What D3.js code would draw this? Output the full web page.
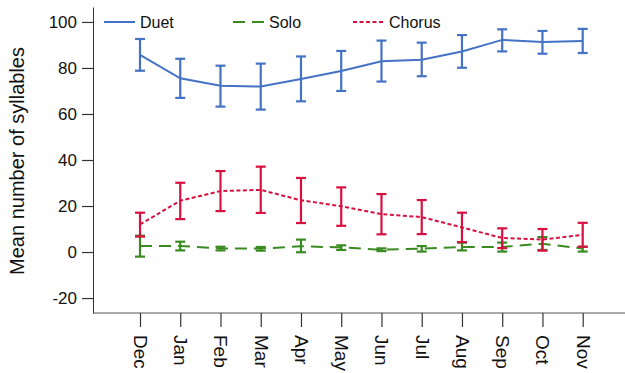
<!DOCTYPE html>
<html>
<head>
<meta charset="utf-8">
<script src="https://cdn.jsdelivr.net/npm/d3@7"></script>
<style>
  body { margin: 0; background: #fff; }
  svg text { font-family: "Liberation Sans", Arial, sans-serif; fill: #111; }
</style>
</head>
<body>
<div id="chart"></div>
<script>
// Months (x categories)
const months = ['Dec', 'Jan', 'Feb', 'Mar', 'Apr', 'May', 'Jun', 'Jul', 'Aug', 'Sep', 'Oct', 'Nov'];

// Mean values and error bar ends
const duetMean = [85.7, 75.5, 72.3, 71.9, 75.2, 78.7, 82.9, 83.6, 87.2, 92.2, 91.3, 91.7];
const duetHigh = [92.6, 84.0, 81.0, 81.9, 85.0, 87.4, 91.9, 91.0, 94.3, 96.8, 96.1, 97.0];
const duetLow  = [78.8, 67.0, 63.2, 61.9, 65.5, 70.0, 74.1, 76.4, 80.1, 87.2, 86.2, 86.5];

const soloMean = [2.6, 2.6, 1.6, 1.5, 2.5, 2.0, 1.0, 1.5, 2.2, 2.2, 3.6, 1.5];
const soloHigh = [7.1, 4.5, 2.3, 2.2, 5.4, 2.9, 1.6, 2.6, 4.1, 4.1, 6.5, 2.3];
const soloLow  = [-2.0, 0.7, 0.7, 0.6, -0.1, 0.9, 0.4, 0.2, 0.7, 0.2, 0.9, 0.2];

const chorusMean = [12.0, 22.3, 26.5, 27.0, 22.5, 19.9, 16.5, 15.2, 10.7, 6.1, 5.4, 7.5];
const chorusHigh = [17.1, 30.1, 35.2, 37.1, 32.2, 28.1, 25.2, 22.6, 17.1, 10.3, 10.0, 12.7];
const chorusLow  = [6.7, 14.3, 17.8, 17.0, 12.6, 11.4, 7.7, 7.8, 4.3, 1.7, 0.6, 2.3];

const yTicks = [-20, 0, 20, 40, 60, 80, 100];

const series = [
  { name: 'Duet', mean: duetMean, high: duetHigh, low: duetLow, color: '#4472c4', dash: null },
  { name: 'Solo', mean: soloMean, high: soloHigh, low: soloLow, color: '#3a8a22', dash: '12,7' },
  { name: 'Chorus', mean: chorusMean, high: chorusHigh, low: chorusLow, color: '#d8103f', dash: '4,2.5' }
];

const width = 625, height = 373;
const plotLeft = 93, plotTop = 7, plotBottom = 313;

const svg = d3.select('#chart').append('svg')
  .attr('width', width)
  .attr('height', height);

const x = d3.scalePoint().domain(months).range([140, 582.7]);
const y = d3.scaleLinear().domain([-26.5, 106.5]).range([plotBottom, plotTop]);

// Y axis (plain hyphen for negatives, like the original)
const yAxis = svg.append('g')
  .attr('transform', `translate(${plotLeft},0)`)
  .call(d3.axisLeft(y).tickValues(yTicks).tickFormat(d => String(d))
    .tickSize(11).tickPadding(5).tickSizeOuter(0));
yAxis.select('.domain').attr('stroke', '#333');
yAxis.selectAll('.tick line').attr('stroke', '#333').attr('stroke-width', 1.2);
yAxis.selectAll('.tick text').style('font-size', '17px').attr('fill', '#111');

// X axis line spanning full width
svg.append('line')
  .attr('x1', plotLeft).attr('x2', width)
  .attr('y1', plotBottom).attr('y2', plotBottom)
  .attr('stroke', '#555').attr('stroke-width', 1.2);

const xAxis = svg.append('g')
  .attr('transform', `translate(0,${plotBottom})`)
  .call(d3.axisBottom(x).tickSize(14).tickSizeOuter(0));
xAxis.select('.domain').remove();
xAxis.selectAll('.tick line').attr('stroke', '#333').attr('stroke-width', 1.2);
xAxis.selectAll('.tick text')
  .style('font-size', '19px')
  .attr('fill', '#111')
  .attr('transform', 'rotate(90)')
  .attr('x', 22)
  .attr('y', 0)
  .attr('dy', '0.35em')
  .style('text-anchor', 'start');

// Y axis title
svg.append('text')
  .attr('transform', 'translate(24,161) rotate(-90)')
  .attr('text-anchor', 'middle')
  .style('font-size', '20px')
  .text('Mean number of syllables');

// Series
const line = d3.line().x((d, i) => x(months[i])).y(d => y(d));

series.forEach(s => {
  const g = svg.append('g');

  g.append('path')
    .datum(s.mean)
    .attr('d', line)
    .attr('fill', 'none')
    .attr('stroke', s.color)
    .attr('stroke-width', 2)
    .attr('stroke-dasharray', s.dash);

  const bars = g.selectAll('g.err')
    .data(months)
    .join('g')
    .attr('class', 'err');

  bars.append('line')
    .attr('x1', d => x(d)).attr('x2', d => x(d))
    .attr('y1', (d, i) => y(s.high[i]))
    .attr('y2', (d, i) => y(s.low[i]))
    .attr('stroke', s.color).attr('stroke-width', 2.2);

  ['high', 'low'].forEach(k => {
    bars.append('line')
      .attr('x1', d => x(d) - 5).attr('x2', d => x(d) + 5)
      .attr('y1', (d, i) => y(s[k][i]))
      .attr('y2', (d, i) => y(s[k][i]))
      .attr('stroke', s.color).attr('stroke-width', 2.2);
  });
});

// Legend
const legendX = [104, 233, 353];
const legend = svg.append('g');
series.forEach((s, i) => {
  legend.append('line')
    .attr('x1', legendX[i]).attr('x2', legendX[i] + 31)
    .attr('y1', 22).attr('y2', 22)
    .attr('stroke', s.color)
    .attr('stroke-width', 2)
    .attr('stroke-dasharray', s.dash);
  legend.append('text')
    .attr('x', legendX[i] + 36)
    .attr('y', 28)
    .style('font-size', '16px')
    .text(s.name);
});
</script>
</body>
</html>
